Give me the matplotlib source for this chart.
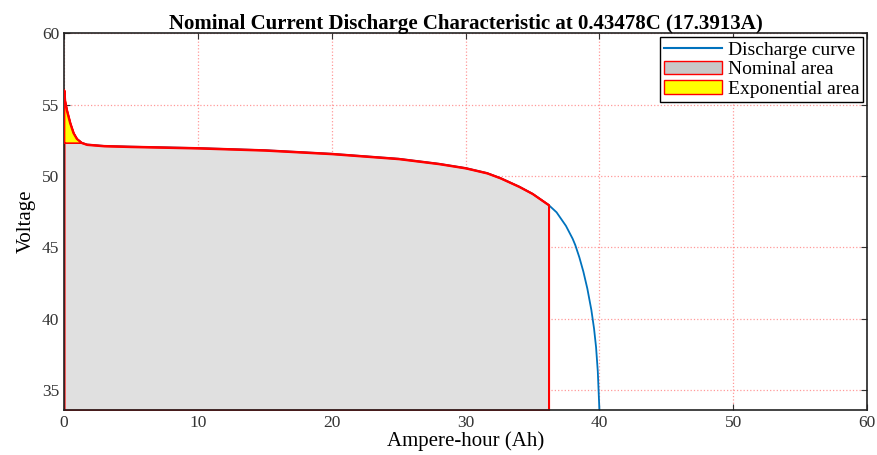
import numpy as np
import matplotlib.pyplot as plt
from matplotlib.patches import Patch
from matplotlib.lines import Line2D

plt.rcParams['font.family'] = ['Liberation Serif', 'DejaVu Serif']

# discharge curve
ah = [0, 0.05, 0.2, 0.45, 0.7, 0.95, 1.3, 1.7, 3, 5, 10, 15, 20, 25, 28,
      30, 31.6, 32.6, 34, 35, 36.2, 36.8, 37.5, 38.0, 38.2, 38.5, 38.8,
      39.1, 39.4, 39.6, 39.75, 39.88, 40.0]
volts = [56.0, 55.3, 54.6, 53.7, 53.0, 52.6, 52.33, 52.2, 52.1, 52.05,
         51.95, 51.8, 51.55, 51.2, 50.85, 50.55, 50.2, 49.85, 49.25, 48.75,
         47.97, 47.45, 46.5, 45.6, 45.15, 44.3, 43.3, 42.1, 40.6, 39.3,
         38.0, 36.3, 33.6]
nominal_ah = 36.2
exp_ah = 1.3
exp_v = 52.33
ymin, ymax = 33.6, 60
xticks = [0, 10, 20, 30, 40, 50, 60]
yticks = [35, 40, 45, 50, 55, 60]

blue = (0, 0.447, 0.741)

fig = plt.figure(figsize=(8.77, 4.55), dpi=100)
ax = fig.add_axes([0.073, 0.099, 0.9157, 0.828])

ah_a = np.array(ah)
v_a = np.array(volts)
nom = ah_a <= nominal_ah
ax.fill_between(ah_a[nom], ymin, v_a[nom], facecolor='#e0e0e0',
                edgecolor='red', lw=1.5, zorder=2)

ex = ah_a <= exp_ah
ax.fill_between(ah_a[ex], exp_v, v_a[ex], facecolor='yellow',
                edgecolor='red', lw=1.2, zorder=3)

ax.plot(ah, volts, color=blue, lw=1.3, zorder=1.5)
ax.plot(ah_a[nom], v_a[nom], color='red', lw=1.5, zorder=4)

ax.set_xlim(0, 60)
ax.set_ylim(ymin, ymax)
ax.set_xticks(xticks)
ax.set_yticks(yticks)
ax.grid(True, color='#ff8080', ls=':', lw=0.9, alpha=0.8)
ax.set_axisbelow(True)
ax.tick_params(direction='in', top=True, right=True, labelsize=12.5,
               colors='#333333', length=4)
for s in ax.spines.values():
    s.set_color('#222222')
    s.set_linewidth(1.2)

ax.set_title('Nominal Current Discharge Characteristic at 0.43478C (17.3913A)',
             fontsize=15, fontweight='bold', pad=3)
ax.set_xlabel('Ampere-hour (Ah)', fontsize=15, labelpad=0)
ax.set_ylabel('Voltage', fontsize=15, labelpad=4)

handles = [Line2D([0], [0], color=blue, lw=1.5),
           Patch(facecolor='#c8c8c8', edgecolor='red'),
           Patch(facecolor='yellow', edgecolor='red')]
leg = ax.legend(handles, ['Discharge curve', 'Nominal area', 'Exponential area'],
                loc='upper right', fontsize=14, fancybox=False, framealpha=1,
                edgecolor='black', borderpad=0.2, handlelength=3.0,
                labelspacing=0.1, handletextpad=0.3, borderaxespad=0.2)
leg.get_frame().set_linewidth(1.0)

fig.savefig('out.png', dpi=100)
